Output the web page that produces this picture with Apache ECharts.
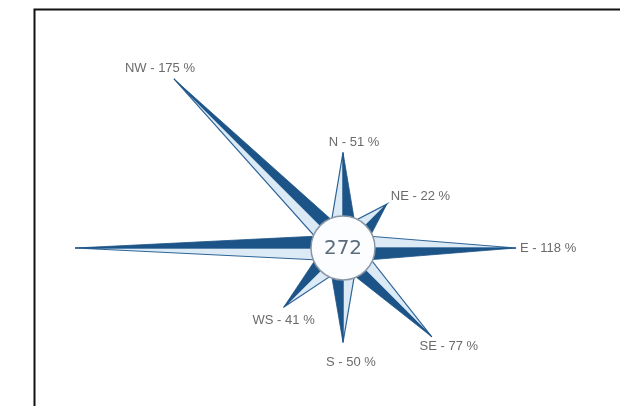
<!DOCTYPE html>
<html>
<head>
<meta charset="utf-8">
<script src="https://cdn.jsdelivr.net/npm/echarts@6/dist/echarts.min.js"></script>
<style>
  html, body { margin: 0; padding: 0; background: #ffffff; }
  #chart { width: 620px; height: 406px; }
</style>
</head>
<body>
<div id="chart"></div>
<script>
// ---- data ----
const directions = ['N', 'NE', 'E', 'SE', 'S', 'WS', 'W', 'NW'];
const directionAngles = [0, 45, 90, 135, 180, 225, 270, 315];
const percentValues = [51, 22, 118, 77, 50, 41, 200, 175];
const labeledDirections = ['N', 'NE', 'E', 'SE', 'S', 'WS', 'NW'];
const totalValue = 272;

// ---- label layout (style only) ----
const labelLayout = {
  N:  { dx: 11,  dy: -10, align: 'center' },
  NE: { dx: 4,   dy: -8,  align: 'left' },
  E:  { dx: 4,   dy: 0,   align: 'left' },
  SE: { dx: 17,  dy: 10,  align: 'center' },
  S:  { dx: 8,   dy: 20,  align: 'center' },
  WS: { dx: 0,   dy: 13,  align: 'center' },
  NW: { dx: -14, dy: -11, align: 'center' }
};

const DARK = '#1d5488';
const LIGHT = '#dbeaf5';
const EDGE = '#2d6497';

const seriesData = directions.map((d, i) => ({ name: d, value: [percentValues[i], directionAngles[i]] }));

function renderSpike(params, api) {
  const cs = params.coordSys;
  const cx = cs.cx, cy = cs.cy;
  const v = api.value(0), ang = api.value(1);
  const tip = api.coord([v, ang]);
  const dx = tip[0] - cx, dy = tip[1] - cy;
  const L = Math.hypot(dx, dy);
  const ux = dx / L, uy = dy / L;
  const px = -uy, py = ux; // clockwise perpendicular
  const ds = 24, w = 12;
  const A = [cx + ds * ux + w * px, cy + ds * uy + w * py];
  const B = [cx + ds * ux - w * px, cy + ds * uy - w * py];
  const C = [cx, cy];
  const children = [
    { type: 'polygon', shape: { points: [C, B, tip] },
      style: { fill: LIGHT, stroke: EDGE, lineWidth: 1.2 } },
    { type: 'polygon', shape: { points: [C, A, tip] },
      style: { fill: DARK, stroke: DARK, lineWidth: 0.8 } }
  ];
  const name = directions[params.dataIndex];
  if (labeledDirections.indexOf(name) >= 0) {
    const lay = labelLayout[name];
    children.push({
      type: 'text',
      x: tip[0] + lay.dx, y: tip[1] + lay.dy,
      style: {
        text: name + ' - ' + percentValues[params.dataIndex] + ' %',
        fill: '#6a6a6a',
        font: '13px "Liberation Sans", Arial, sans-serif',
        align: lay.align,
        verticalAlign: 'middle'
      }
    });
  }
  return { type: 'group', children: children };
}

function renderHub(params, api) {
  const cs = params.coordSys;
  return {
    type: 'group',
    children: [
      { type: 'circle', shape: { cx: cs.cx, cy: cs.cy, r: 32 },
        style: { fill: '#fbfdff', stroke: '#8a98a6', lineWidth: 1.5 } },
      { type: 'text', x: cs.cx, y: cs.cy + 1,
        style: { text: String(totalValue), fill: '#5d6c7c',
          font: '20px "DejaVu Sans", sans-serif', align: 'center', verticalAlign: 'middle' } }
    ]
  };
}

const chart = echarts.init(document.getElementById('chart'), null, { renderer: 'canvas' });
chart.setOption({
  animation: false,
  backgroundColor: '#ffffff',
  graphic: [{
    type: 'rect', left: 32, top: 7, z: 100,
    shape: { x: 0, y: 0, width: 700, height: 500 },
    style: { fill: 'none', stroke: '#111111', lineWidth: 2 }
  }],
  polar: { center: [343, 248], radius: [36.5, 268] },
  angleAxis: { type: 'value', min: 0, max: 360, startAngle: 90, clockwise: true, show: false },
  radiusAxis: { type: 'value', min: 0, max: 200, show: false },
  series: [
    { type: 'custom', coordinateSystem: 'polar', renderItem: renderSpike,
      encode: { radius: 0, angle: 1 }, data: seriesData, z: 2 },
    { type: 'custom', coordinateSystem: 'polar', renderItem: renderHub,
      data: [[0, 0]], z: 3 }
  ]
});
</script>
</body>
</html>
